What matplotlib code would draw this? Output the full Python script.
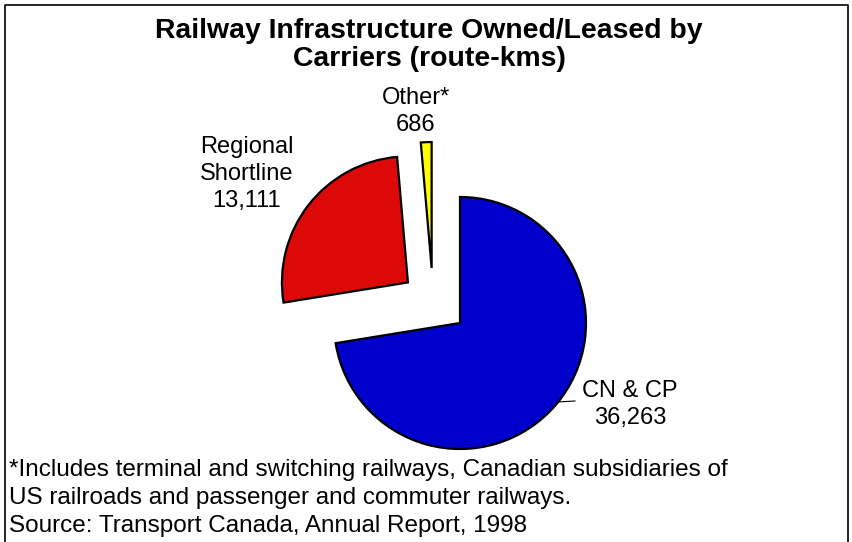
"""Railway infrastructure owned/leased by carriers - pie chart."""

import matplotlib
matplotlib.use("Agg")
import matplotlib.pyplot as plt

# data
categories = ["CN & CP", "Regional\nShortline", "Other*"]
route_kms = [36263, 13111, 686]
colors = ["#0000CC", "#DD0808", "#FFFF00"]
explode_px = [0, 66, 55]

title = ["Railway Infrastructure Owned/Leased by", "Carriers (route-kms)"]
footnote = [
    "*Includes terminal and switching railways, Canadian subsidiaries of",
    "US railroads and passenger and commuter railways.",
    "Source: Transport Canada, Annual Report, 1998",
]

W, H = 852, 542
plt.rcParams["font.family"] = ["Liberation Sans", "DejaVu Sans"]

fig = plt.figure(figsize=(W / 100, H / 100), dpi=100)
ax = fig.add_axes([0, 0, 1, 1])

# pixel-space pie: centre and radius in image pixels (y flipped)
cx, cy, r = 460, H - 323, 126
wedges, _ = ax.pie(
    route_kms,
    colors=colors,
    explode=explode_px,
    startangle=90,
    counterclock=False,
    center=(cx, cy),
    radius=r,
    wedgeprops=dict(edgecolor="black", linewidth=1.6),
    frame=True,
)
ax.set_xlim(0, W)
ax.set_ylim(0, H)
ax.set_aspect("equal")
ax.axis("off")
# the small slice sits a bit left of its explode direction in the original
wx, wy = wedges[2].center
wedges[2].set_center((wx - 26, wy))

# frame round the figure (left, top, right)
ax.plot([5, 5, 848, 848], [0, H - 5, H - 5, 0], color="black", lw=1.2,
        clip_on=False)


def block(x, y_top_base, lines, step, **kw):
    """Write lines downwards from the first baseline (image y)."""
    for i, line in enumerate(lines):
        ax.text(x, H - (y_top_base + step * i), line, va="baseline", **kw)


block(429, 38, title, 28, ha="center", fontsize=20.4, fontweight="bold")

label_fmt = [f"{n}\n{v:,}".split("\n") for n, v in zip(categories, route_kms)]
block(630, 397, label_fmt[0], 27, ha="center", fontsize=17)
block(247, 153, label_fmt[1], 27, ha="center", fontsize=17)
block(416, 104, label_fmt[2], 27, ha="center", fontsize=17)
ax.plot([557, 575], [H - 402, H - 401], color="black", lw=0.8)

block(9, 476, footnote, 28, ha="left", fontsize=17.5)

fig.savefig("out.png", dpi=100)
